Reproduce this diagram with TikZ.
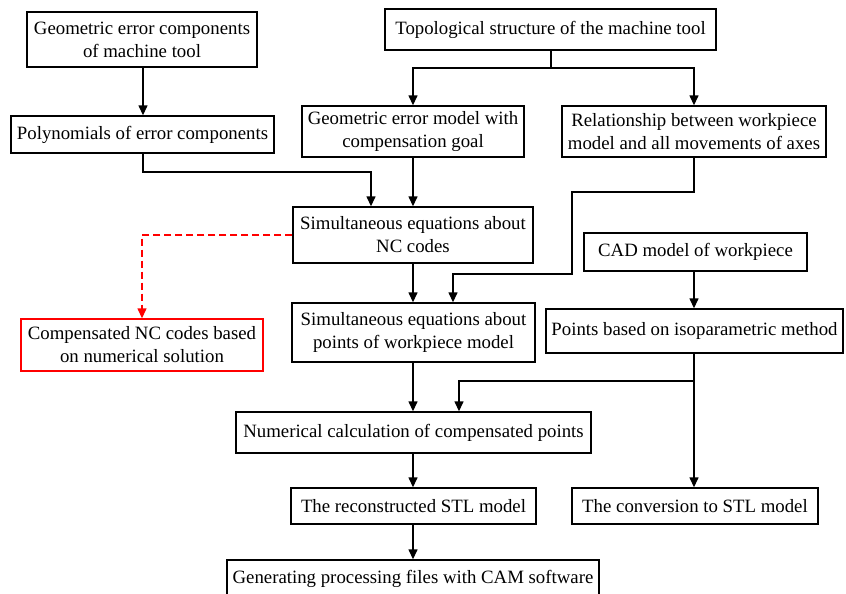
\documentclass[tikz,border=0pt]{standalone}
\usepackage{fontspec}
\setmainfont{Liberation Serif}
\usetikzlibrary{arrows.meta}
\begin{document}
\begin{tikzpicture}[x=1pt,y=-1pt,
  box/.style={draw=black,line width=1.4pt,inner sep=0pt,align=center,font=\fontsize{18.8}{23}\selectfont},
  redbox/.style={box,draw=red},
  conn/.style={line width=1.4pt,-{Triangle[length=10pt,width=9pt]}},
  plain/.style={line width=1.4pt},
  redconn/.style={line width=1.4pt,draw=red,dash pattern=on 7pt off 4pt,-{Triangle[length=10pt,width=9pt,fill=red]}}]
\useasboundingbox (0,0) rectangle (846,594);
\node[box,minimum width=230pt,minimum height=55pt] (b1) at (142,39.5) {Geometric error components\\of machine tool};
\node[box,minimum width=331pt,minimum height=41pt] (b2) at (550.5,29.5) {Topological structure of the machine tool};
\node[box,minimum width=263pt,minimum height=37pt] (b3) at (142.5,134.5) {Polynomials of error components};
\node[box,minimum width=222pt,minimum height=51pt] (b4) at (413,131.5) {Geometric error model with\\compensation goal};
\node[box,minimum width=264pt,minimum height=51pt] (b5) at (694,131.5) {Relationship between workpiece\\model and all movements of axes};
\node[box,minimum width=240pt,minimum height=56pt] (b6) at (413,235) {Simultaneous equations about\\NC codes};
\node[box,minimum width=223pt,minimum height=38pt] (b7) at (695.5,252) {CAD model of workpiece};
\node[redbox,minimum width=242pt,minimum height=52pt] (b8) at (142,345) {Compensated NC codes based\\on numerical solution};
\node[box,minimum width=243pt,minimum height=59pt] (b9) at (413.5,332.5) {Simultaneous equations about\\points of workpiece model};
\node[box,minimum width=297pt,minimum height=44pt] (b10) at (694.5,331) {Points based on isoparametric method};
\node[box,minimum width=355pt,minimum height=41pt] (b11) at (413.5,432.5) {Numerical calculation of compensated points};
\node[box,minimum width=245pt,minimum height=36pt] (b12) at (413.5,506) {The reconstructed STL model};
\node[box,minimum width=246pt,minimum height=36pt] (b13) at (695,506) {The conversion to STL model};
\node[box,minimum width=372pt,minimum height=38pt] (b14) at (413,579) {Generating processing files with CAM software};
% column coordinates
\coordinate (cA) at (143,0);
\coordinate (cB) at (413,0);
\coordinate (cC) at (694,0);
% connectors
\draw[conn] (b1.south -| cA) -- (b3.north -| cA);
\coordinate (j1) at (551,68);
\draw[plain] (b2.south -| j1) -- (j1);
\draw[conn] (j1) -| (b4.north -| cB);
\draw[conn] (j1) -| (b5.north -| cC);
\coordinate (j2) at (143,172);
\coordinate (e6a) at (371,207);
\draw[conn] (b3.south -| j2) -- (j2) -| (b6.north -| e6a);
\draw[conn] (b4.south -| cB) -- (b6.north -| cB);
\coordinate (j3) at (694,192);
\coordinate (j4) at (572,274);
\coordinate (e9b) at (453,303);
\draw[conn] (b5.south -| cC) -- (j3) -| (j4) -| (b9.north -| e9b);
\draw[conn] (b6.south -| cB) -- (b9.north -| cB);
\draw[redconn] (b6.west) -| (b8.north);
\draw[conn] (b7.south -| cC) -- (b10.north -| cC);
\coordinate (j5) at (694,381);
\coordinate (e11b) at (459,412);
\draw[conn] (b10.south -| cC) -- (j5) -| (b11.north -| e11b);
\draw[conn] (j5) -- (b13.north -| cC);
\draw[conn] (b9.south -| cB) -- (b11.north -| cB);
\draw[conn] (b11.south -| cB) -- (b12.north -| cB);
\draw[conn] (b12.south -| cB) -- (b14.north -| cB);
\end{tikzpicture}
\end{document}
